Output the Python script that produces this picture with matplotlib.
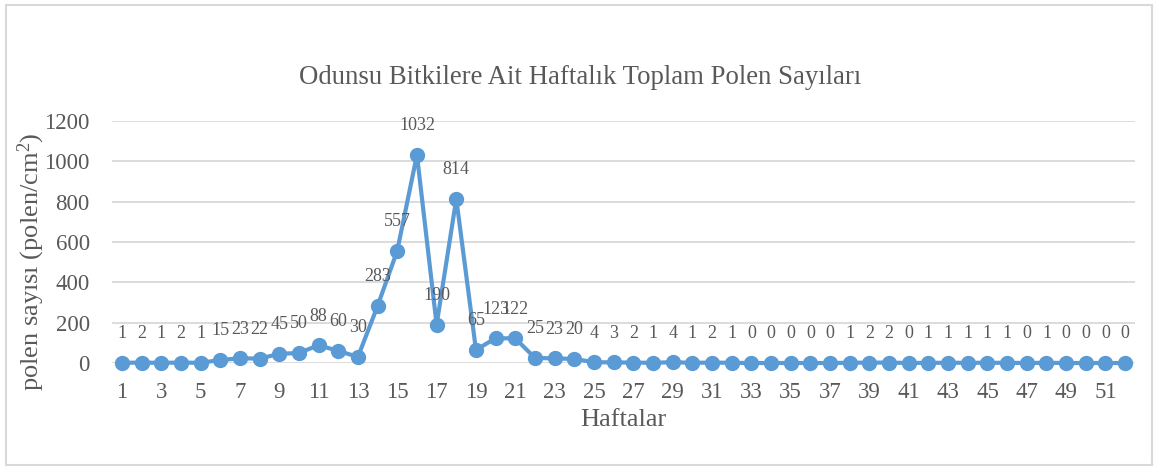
import matplotlib
matplotlib.use("Agg")
import matplotlib.pyplot as plt
from matplotlib.patches import Rectangle

weeks = list(range(1, 53))
values = [1, 2, 1, 2, 1, 15, 23, 22, 45, 50, 88, 60, 30, 283, 557, 1032, 190, 814,
          65, 123, 122, 25, 23, 20, 4, 3, 2, 1, 4, 1, 2, 1, 0, 0, 0, 0, 0, 1, 2, 2,
          0, 1, 1, 1, 1, 1, 0, 1, 0, 0, 0, 0]
yticks = [0, 200, 400, 600, 800, 1000, 1200]
xticks = list(range(1, 53, 2))
title = "Odunsu Bitkilere Ait Haftalık Toplam Polen Sayıları"
xlabel = "Haftalar"
ylabel = "polen sayısı (polen/cm$^2$)"

plt.rcParams['font.family'] = ['Liberation Serif', 'DejaVu Serif']
plt.rcParams['mathtext.fontset'] = 'custom'
plt.rcParams['mathtext.rm'] = 'Liberation Serif'
plt.rcParams['mathtext.it'] = 'Liberation Serif:italic'
plt.rcParams['mathtext.default'] = 'rm'
txt = '#595959'
blue = '#5B9BD5'
grid = '#D9D9D9'

fig = plt.figure(figsize=(11.63, 4.67), dpi=100)
fig.patches.append(Rectangle((6/1163, 2/467), 1146/1163, 460/467, transform=fig.transFigure,
                             fill=False, edgecolor=grid, linewidth=1.5))
W, H = 1163, 467
left, right, top, bottom = 112, 1135, 121, 363
ax = fig.add_axes([left/W, 1-bottom/H, (right-left)/W, (bottom-top)/H])
ax.plot(weeks, values, color=blue, linewidth=3, marker='o', markersize=10,
        clip_on=False, zorder=3)
for w, v in zip(weeks, values):
    ax.annotate(str(v), (w, v), xytext=(0, 21), textcoords='offset points',
                ha='center', va='center', fontsize=13, color=txt)
ax.set_xlim(0.5, 52.5)
ax.set_ylim(0, 1200)
ax.set_yticks(yticks)
ax.set_xticks(xticks)
ax.grid(axis='y', color=grid, linewidth=1.3)
ax.set_axisbelow(True)
for s in ax.spines.values():
    s.set_visible(False)
ax.tick_params(axis='both', length=0, labelsize=16.5, labelcolor=txt)
ax.tick_params(axis='y', pad=16)
ax.tick_params(axis='x', pad=14)
ax.set_xlabel(xlabel, fontsize=19, color=txt)
ax.xaxis.set_label_coords(0.5, (bottom - 420) / (bottom - top))
ax.xaxis.label.set_verticalalignment('center')
ax.set_ylabel(ylabel, fontsize=19, color=txt)
ax.yaxis.set_label_coords((31 - left) / (right - left), (bottom - 262) / (bottom - top))
ax.yaxis.label.set_horizontalalignment('center')
ax.yaxis.label.set_verticalalignment('center')
fig.text(580/W, 1-78/H, title, ha='center', va='center', fontsize=19.3, color=txt)
fig.savefig('out.png', dpi=100)
